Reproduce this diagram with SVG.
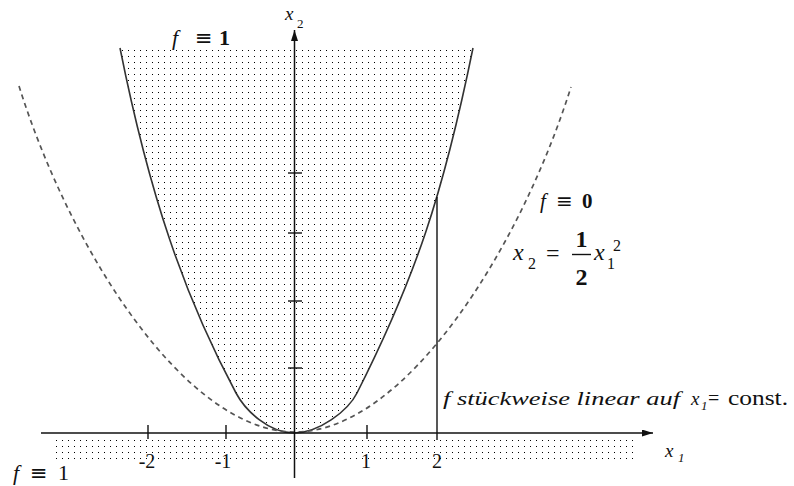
<svg xmlns="http://www.w3.org/2000/svg" width="794" height="486" viewBox="0 0 794 486">
  <defs>
    <pattern id="dots" patternUnits="userSpaceOnUse" x="0" y="0" width="6" height="6">
      <rect x="2" y="2" width="1" height="1" fill="#000"/>
    </pattern>
    <marker id="arrow" markerUnits="userSpaceOnUse" markerWidth="12" markerHeight="8" refX="11" refY="3.5" orient="auto">
      <path d="M0,0 L11,3.5 L0,7 Z" fill="#111"/>
    </marker>
    <style>
      .axis { stroke: #111; stroke-width: 1.5; fill: none; }
      .tick { stroke: #111; stroke-width: 1.4; fill: none; }
      .solid { stroke: #333; stroke-width: 1.6; fill: none; }
      .dash { stroke: #555; stroke-width: 1.7; fill: none; stroke-dasharray: 5 4; }
      .serif { font-family: "Liberation Serif", "DejaVu Serif", serif; fill: #111; }
      .eq { font-family: "DejaVu Sans", sans-serif; }
      .it { font-style: italic; }
      .bold { font-weight: bold; }
    </style>
  </defs>
  <rect width="794" height="486" fill="#fff"/>

  <g id="stipple">
    <path d="M120,48 C149.4,195 184.3,296.2 236,393 C245.4,410.6 269,433 294,433 C319,433 348,410.8 357,393 C415.5,277.3 443,195 473,48 Z" fill="url(#dots)"/>
    <rect x="53" y="435" width="580" height="28" fill="url(#dots)"/>
  </g>

  <g id="curves">
    <path class="solid" d="M120,48 C149.4,195 184.3,296.2 236,393 C245.4,410.6 269,433 294,433 C319,433 348,410.8 357,393 C415.5,277.3 443,195 473,48"/>
    <path class="dash" d="M19,86 C70,249 185,432 295,432 C405,432 520,249 571,87"/>
  </g>

  <g id="axes">
    <line class="axis" x1="41" y1="433" x2="653" y2="433" marker-end="url(#arrow)"/>
    <line class="axis" x1="294.5" y1="478" x2="294.5" y2="30" marker-end="url(#arrow)"/>
    <line class="tick" x1="148" y1="425" x2="148" y2="439"/>
    <line class="tick" x1="226" y1="425" x2="226" y2="439"/>
    <line class="tick" x1="367" y1="425" x2="367" y2="439"/>
    <line class="tick" x1="437" y1="197" x2="437" y2="440"/>
    <line class="tick" x1="288" y1="173" x2="302" y2="173"/>
    <line class="tick" x1="288" y1="233" x2="302" y2="233"/>
    <line class="tick" x1="288" y1="301" x2="302" y2="301"/>
    <line class="tick" x1="288" y1="368" x2="302" y2="368"/>
  </g>

  <g id="tick-labels" class="serif" font-size="20" text-anchor="middle">
    <text x="147" y="468">-2</text>
    <text x="223" y="468">-1</text>
    <text x="366" y="468">1</text>
    <text x="437" y="468">2</text>
  </g>

  <g id="axis-labels" class="serif">
    <text x="285" y="20" font-size="19" class="it">x</text>
    <text x="297" y="28" font-size="13">2</text>
    <text x="665" y="457" font-size="19" class="it">x</text>
    <text x="678" y="462" font-size="13" class="it">1</text>
  </g>

  <g id="label-top" class="serif">
    <text x="172" y="45" font-size="22" class="it">f</text>
    <text x="195" y="45" font-size="21" class="eq">≡</text>
    <text x="219" y="45" font-size="22" class="bold">1</text>
  </g>

  <g id="label-bottom" class="serif">
    <text x="13" y="480" font-size="22" class="it">f</text>
    <text x="30" y="480" font-size="21" class="eq">≡</text>
    <text x="58" y="480" font-size="22">1</text>
  </g>

  <g id="label-right" class="serif">
    <text x="540" y="208" font-size="21" class="it">f</text>
    <text x="556" y="208" font-size="20" class="eq">≡</text>
    <text x="582" y="208" font-size="21" class="bold">0</text>
    <text x="513" y="260" font-size="24" class="it">x</text>
    <text x="528" y="269" font-size="16">2</text>
    <text x="546" y="261" font-size="24">=</text>
    <line x1="572" y1="254.5" x2="591" y2="254.5" stroke="#111" stroke-width="1.4"/>
    <text x="581.5" y="247" font-size="24" class="bold" text-anchor="middle">1</text>
    <text x="581.5" y="285" font-size="24" class="bold" text-anchor="middle">2</text>
    <text x="594" y="260" font-size="24" class="it">x</text>
    <text x="607" y="269" font-size="16">1</text>
    <text x="613" y="251" font-size="16">2</text>
  </g>

  <g id="label-linear" class="serif">
    <text x="443" y="405" font-size="19" class="it" textLength="237" lengthAdjust="spacingAndGlyphs">f stückweise linear auf</text>
    <text x="691" y="405" font-size="19" class="it">x</text>
    <text x="701" y="410" font-size="13" class="it">1</text>
    <text x="708" y="405" font-size="20">=</text>
    <text x="728" y="405" font-size="20" textLength="60" lengthAdjust="spacingAndGlyphs">const.</text>
  </g>
</svg>
